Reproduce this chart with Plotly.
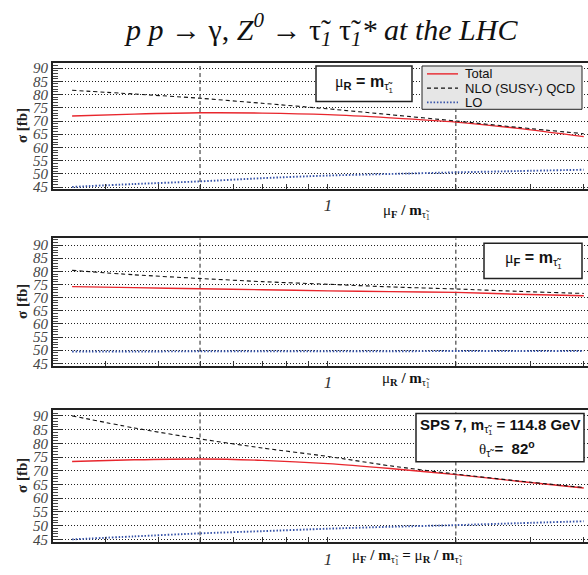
import plotly.graph_objects as go

W, H = 588, 575

# ---------------- data ----------------
scale_x = [0.25, 0.35, 0.5, 0.7, 1.0, 1.4, 2.0, 2.8, 4.0]

# panel 1: mu_F varied, mu_R = m
p1_total = [71.9, 72.6, 73.1, 73.0, 72.4, 71.2, 69.6, 67.2, 64.1]
p1_nlo   = [81.6, 80.2, 78.6, 76.7, 74.6, 72.4, 70.0, 67.6, 65.2]
p1_lo    = [45.1, 46.2, 47.2, 48.4, 49.4, 50.0, 50.6, 51.1, 51.6]

# panel 2: mu_R varied, mu_F = m
p2_total = [74.2, 73.8, 73.4, 73.0, 72.6, 72.3, 72.0, 71.3, 70.7]
p2_nlo   = [80.4, 78.7, 77.3, 76.1, 75.1, 74.1, 73.3, 72.4, 71.6]
p2_lo    = [49.5, 49.5, 49.6, 49.6, 49.6, 49.6, 49.7, 49.7, 49.7]

# panel 3: mu_F = mu_R varied
p3_total = [73.4, 74.0, 74.3, 73.8, 72.6, 70.8, 68.6, 66.2, 63.7]
p3_nlo   = [90.0, 85.6, 81.6, 78.3, 75.2, 71.8, 68.8, 66.3, 63.9]
p3_lo    = [45.0, 46.1, 47.2, 48.0, 48.9, 49.6, 50.2, 50.9, 51.6]

y_ticks = [45, 50, 55, 60, 65, 70, 75, 80, 85, 90]
x_tickvals = [0.3, 0.4, 0.5, 0.6, 0.7, 0.8, 0.9, 1, 2, 3, 4]
x_ticktext = ["", "", "", "", "", "", "", "1", "", "", ""]
guide_x = [0.5, 2.0]

series_names = ["Total", "NLO (SUSY-) QCD", "LO"]

# ---------------- style ----------------
SERIF = "Liberation Serif"
SANS = "Liberation Sans"
RED = "#e8262d"
BLUE = "#3552a8"
styles = {
    "Total": dict(color=RED, width=1.4, dash="solid"),
    "NLO (SUSY-) QCD": dict(color="#111111", width=1.1, dash="4px,3px"),
    "LO": dict(color=BLUE, width=1.9, dash="1.5px,1.8px"),
}

panels = [
    dict(data=[p1_total, p1_nlo, p1_lo], top=61, bot=189, yr=[44.3, 91.9]),
    dict(data=[p2_total, p2_nlo, p2_lo], top=239, bot=368.5, yr=[44.1, 92.6]),
    dict(data=[p3_total, p3_nlo, p3_lo], top=413, bot=548, yr=[43.9, 92.3]),
]

XL, XR = 53, 588
xrange_log = [-0.647, 0.612]


def px(x):
    return x / W


def py(y):
    return 1 - y / H


def note(x, y, text, size, family, color="#111111", **kw):
    d = dict(x=px(x), y=py(y), xref="paper", yref="paper", showarrow=False,
             xanchor="center", yanchor="middle", text=text,
             font=dict(family=family, size=size, color=color))
    d.update(kw)
    return d


fig = go.Figure()
layout = dict(
    width=W, height=H,
    margin=dict(l=0, r=0, t=0, b=0),
    paper_bgcolor="white", plot_bgcolor="white",
    showlegend=False,
)

for i, p in enumerate(panels):
    n = i + 1
    xa = "x" if n == 1 else f"x{n}"
    ya = "y" if n == 1 else f"y{n}"
    for gx in guide_x:
        fig.add_trace(go.Scatter(
            x=[gx, gx], y=p["yr"], mode="lines", xaxis=xa, yaxis=ya,
            line=dict(color="#222222", width=1, dash="4px,3px"),
            hoverinfo="skip"))
    for name, vals in zip(series_names, p["data"]):
        fig.add_trace(go.Scatter(
            x=scale_x, y=vals, mode="lines", name=name, xaxis=xa, yaxis=ya,
            line=dict(shape="spline", smoothing=0.8, **styles[name])))

    xkey = "xaxis" if n == 1 else f"xaxis{n}"
    ykey = "yaxis" if n == 1 else f"yaxis{n}"
    layout[xkey] = dict(
        type="log", range=xrange_log, domain=[px(XL), px(XR)],
        anchor=ya, showgrid=False, zeroline=False,
        showline=True, mirror=True, linewidth=2, linecolor="#222222",
        tickmode="array", tickvals=x_tickvals, ticktext=x_ticktext,
        ticks="inside", ticklen=5, tickcolor="#333333",
        tickfont=dict(family=SERIF, size=17, color="#333333", style="italic"),
    )
    layout[ykey] = dict(
        range=p["yr"], domain=[py(p["bot"]), py(p["top"])],
        anchor=xa, zeroline=False,
        showline=True, mirror=False, linewidth=2, linecolor="#222222",
        tickmode="array", tickvals=y_ticks,
        ticks="inside", ticklen=9, tickcolor="#333333",
        tickfont=dict(family=SERIF, size=15, color="#444444", style="italic"),
        showgrid=True, gridcolor="#222222", gridwidth=1, griddash="1px,2px",
        minor=dict(dtick=1, ticks="inside", ticklen=5, tickcolor="#444444",
                   showgrid=False),
    )

fig.update_layout(**layout)

ann = []
shapes = []

# title
ann.append(note(321, 27,
                "<i>p p</i> → γ, <i>Z<sup>0</sup></i> → τ̃<sub><i>1</i></sub> τ̃<sub><i>1</i></sub><i>* at the LHC</i>",
                30, SERIF))

# y titles
for p in panels:
    ann.append(note(22, (p["top"] + p["bot"]) / 2, "<b>σ [fb]</b>", 15, SERIF,
                    color="#222222", textangle=-90))

# x titles
xt = [
    (406, 212, "μ<sub><b>F</b></sub><b> / m</b><sub>τ̃<sub>1</sub></sub>"),
    (406, 383, "μ<sub><b>R</b></sub><b> / m</b><sub>τ̃<sub>1</sub></sub>"),
    (407, 563, "μ<sub><b>F</b></sub><b> / m</b><sub>τ̃<sub>1</sub></sub><b> = </b>μ<sub><b>R</b></sub><b> / m</b><sub>τ̃<sub>1</sub></sub>"),
]
for x, y, t in xt:
    ann.append(note(x, y, t, 15, SERIF, color="#111111"))

# info boxes
boxes = [
    (316, 64, 412, 100),
    (484, 244, 582, 280),
    (416, 417, 584, 466),
]
for x0, y0, x1, y1 in boxes:
    shapes.append(dict(type="rect", xref="paper", yref="paper",
                       x0=px(x0), x1=px(x1), y0=py(y0), y1=py(y1),
                       fillcolor="white", line=dict(color="#222222", width=1.5),
                       layer="above"))
ann.append(note(364, 82,
                "<span style='font-family:Liberation Serif'>μ</span><sub><b>R</b></sub><b> = m</b><sub>τ̃<sub>1</sub></sub>",
                16, SANS))
ann.append(note(533, 261,
                "<span style='font-family:Liberation Serif'>μ</span><sub><b>F</b></sub><b> = m</b><sub>τ̃<sub>1</sub></sub>",
                16, SANS))
ann.append(note(500, 430,
                "<b>SPS 7, m</b><sub>τ̃<sub>1</sub></sub><b> = 114.8 GeV</b>", 15, SANS))
ann.append(note(507, 453,
                "<span style='font-family:Liberation Serif'>θ</span><sub>τ̃</sub><b> =  82<sup>o</sup></b>",
                15, SANS))

# legend (panel 1)
shapes.append(dict(type="rect", xref="paper", yref="paper",
                   x0=px(422), x1=px(582), y0=py(64), y1=py(108),
                   fillcolor="#e6e6e6", line=dict(color="#222222", width=1),
                   layer="above"))
leg_y = [72, 86.5, 101]
for name, ly in zip(series_names, leg_y):
    st = styles[name]
    shapes.append(dict(type="line", xref="paper", yref="paper",
                       x0=px(427), x1=px(458), y0=py(ly), y1=py(ly),
                       line=dict(color=st["color"], width=st["width"], dash=st["dash"]),
                       layer="above"))
    ann.append(note(463, ly, name, 13, SANS, xanchor="left"))

fig.update_layout(annotations=ann, shapes=shapes)
fig.write_html("out.html")
